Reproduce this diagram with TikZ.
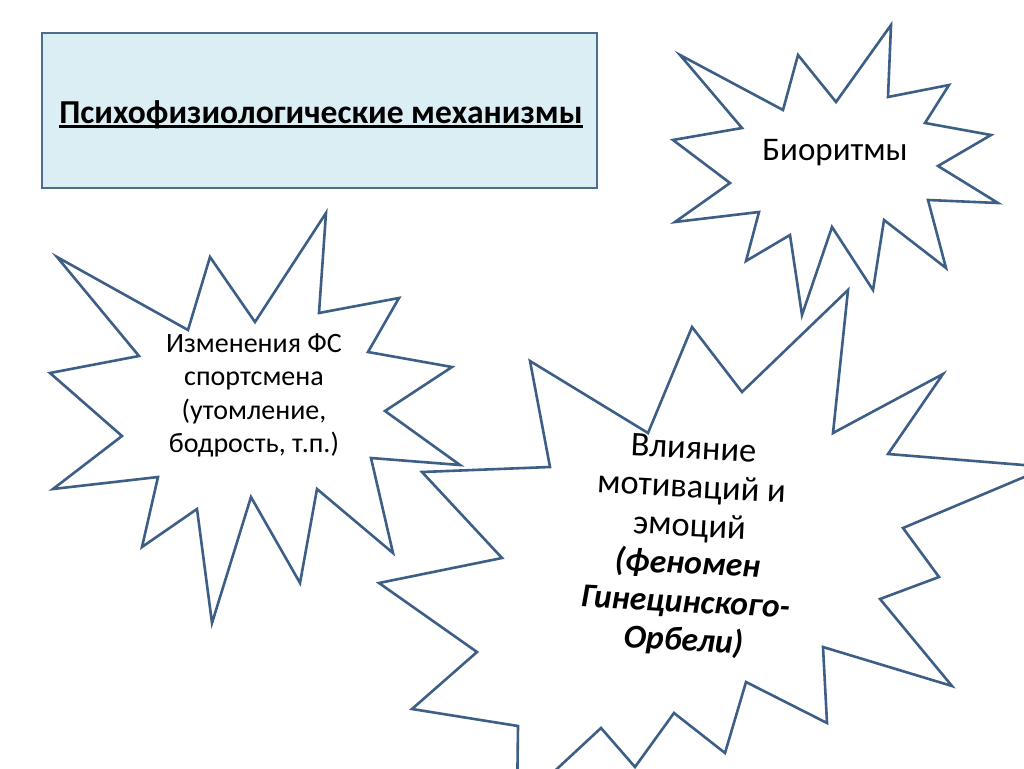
\documentclass[tikz,border=0pt]{standalone}
\usepackage{fontspec}
\setmainfont{Carlito}
\definecolor{starline}{HTML}{3D5F86}
\definecolor{boxfill}{HTML}{DBEEF4}
\definecolor{boxline}{HTML}{4B6E8F}
\newcommand\myuline[1]{\setbox0\hbox{#1}\rlap{\rule[-0.14em]{\wd0}{0.07em}}\box0}
\begin{document}
\begin{tikzpicture}[x=1pt,y=-1pt,
  starshape/.style={draw=starline, line width=2.6pt, fill=white, line join=miter},
  txt/.style={inner sep=0pt, text=black, anchor=base},
  smalltxt/.style={txt, font=\fontsize{28}{34}\selectfont},
  bigtxt/.style={txt, font=\fontsize{33}{38}\selectfont},
  midtxt/.style={txt, font=\fontsize{34.5}{38}\selectfont},
  bigbold/.style={txt, font=\fontsize{33.5}{38}\selectfont\bfseries\itshape}]
\clip (0,0) rectangle (1024,768);
\fill[white] (0,0) rectangle (1024,768);

% title box
\node[draw=boxline, line width=2.4pt, fill=boxfill, minimum width=555pt, minimum height=155pt, inner sep=0pt] (titlebox) at (319.5,110.5) {};
\node[txt, font=\fontsize{33.5}{38}\selectfont\bfseries] (title) at (321,123) {\myuline{Психофизиологические механизмы}};

% star 1: Биоритмы
\draw[starshape] (891,25) -- (888,97) -- (949,85) -- (925,123) -- (991,135) -- (938,166) -- (998,203) -- (928,200) -- (946,268) -- (884,220) -- (873,290) -- (832,227) -- (802,315) -- (790,235) -- (746,261) -- (759,212) -- (675,222) -- (730,183) -- (673,140) -- (742,128) -- (680,55) -- (783,110) -- (798,55) -- (836,102) -- cycle;
\node[bigtxt] (bio) at (835,160) {Биоритмы};

% star 2: Изменения ФС
\draw[starshape] (326,213) -- (319,313) -- (399,298) -- (368,352) -- (452,367) -- (385,411) -- (460,465) -- (371,458) -- (393,553) -- (317,489) -- (300,583) -- (251,497) -- (212,623) -- (197,509) -- (142,547) -- (158,477) -- (53,489) -- (122,436) -- (50,373) -- (139,356) -- (57,257) -- (188,330) -- (210,257) -- (255,322) -- cycle;
\node[smalltxt] (fs1) at (254,352) {Изменения ФС};
\node[smalltxt] (fs2) at (254,385) {спортсмена};
\node[smalltxt] (fs3) at (254,419) {(утомление,};
\node[smalltxt] (fs4) at (254,452) {бодрость, т.п.)};

% star 3: Влияние мотиваций
\draw[starshape] (530,361) -- (648,433) -- (692,327) -- (742,392) -- (848,290) -- (833,433) -- (943,374) -- (888,454) -- (1048,467) -- (903,528) -- (939,577) -- (880,599) -- (952,686) -- (823,647) -- (827,723) -- (746,682) -- (725,753) -- (674,713) -- (635,767) -- (601,728) -- (517,806) -- (518,726) -- (412,709) -- (477,652) -- (379,583) -- (502,558) -- (422,472) -- (550,467) -- cycle;
\begin{scope}[shift={(688,555)}, rotate=-3, transform shape]
\node[midtxt] (m1) at (0,-96) {Влияние};
\node[midtxt] (m2) at (0,-57.5) {мотиваций и};
\node[midtxt] (m3) at (0,-19) {эмоций};
\node[bigbold] (m4) at (0,19) {(феномен};
\node[bigbold] (m5) at (0,57.5) {Гинецинского-};
\node[bigbold] (m6) at (0,96) {Орбели)};
\end{scope}
\end{tikzpicture}
\end{document}
